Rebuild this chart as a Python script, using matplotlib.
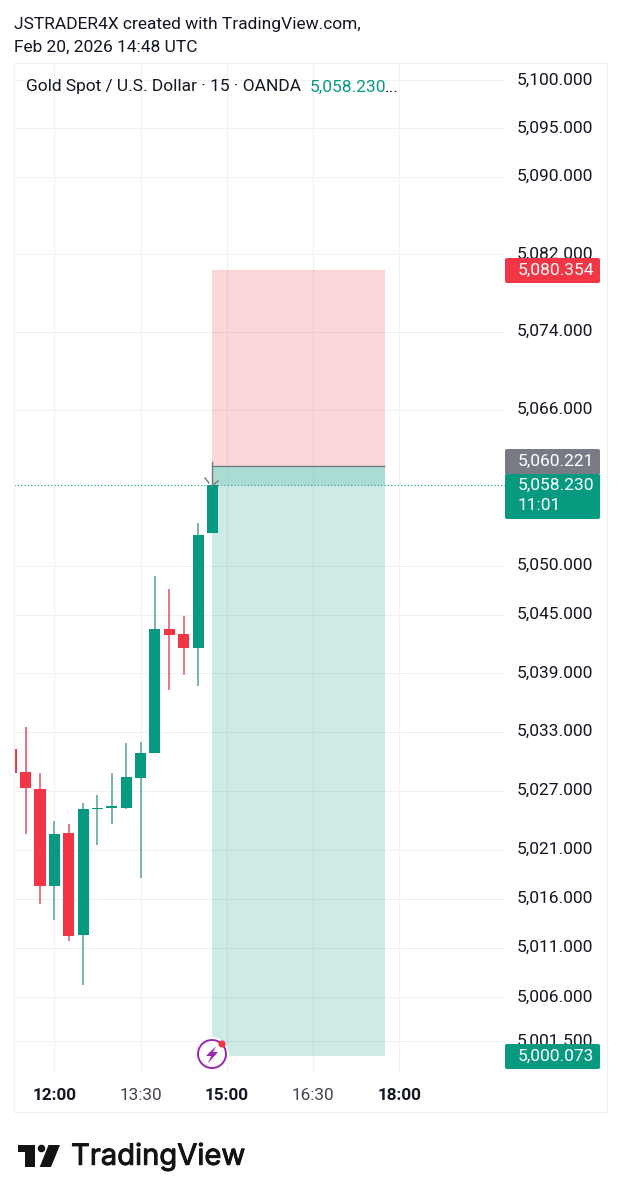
import matplotlib
matplotlib.use('Agg')
import matplotlib.pyplot as plt
import matplotlib.patheffects as pe
from matplotlib.patches import Rectangle, Circle, Polygon, FancyBboxPatch
from matplotlib.lines import Line2D
from matplotlib.transforms import ScaledTranslation

plt.rcParams['font.family'] = ['Roboto', 'DejaVu Sans']

W, H = 622, 1200

# candles, bar 0 is the 12:00 bar
bar_index = [-3, -2, -1, 0, 1, 2, 3, 4, 5, 6, 7, 8, 9, 10, 11]
opens = [5031.3, 5028.9, 5027.2, 5017.3, 5022.7, 5012.3, 5025.1, 5025.2, 5025.2, 5028.3, 5030.9, 5043.5, 5043.0, 5041.6, 5053.4]
highs = [5031.3, 5033.5, 5028.8, 5023.9, 5023.6, 5025.7, 5026.6, 5028.8, 5031.9, 5032.0, 5048.9, 5047.6, 5044.9, 5054.4, 5058.23]
lows = [5028.8, 5022.6, 5015.5, 5013.8, 5011.7, 5007.2, 5021.5, 5023.6, 5025.1, 5018.1, 5030.9, 5037.3, 5038.8, 5037.7, 5053.4]
closes = [5028.8, 5027.3, 5017.3, 5022.6, 5012.2, 5025.1, 5025.2, 5025.4, 5028.4, 5030.9, 5043.5, 5042.9, 5041.6, 5053.1, 5058.23]

price_ticks = [5100, 5095, 5090, 5082, 5074, 5066, 5050, 5045, 5039, 5033, 5027, 5021, 5016, 5011, 5006, 5001.5]
price_labels = ['5,100.000', '5,095.000', '5,090.000', '5,082.000', '5,074.000', '5,066.000', '5,050.000', '5,045.000',
                '5,039.000', '5,033.000', '5,027.000', '5,021.000', '5,016.000', '5,011.000', '5,006.000', '5,001.500']
time_ticks = [0, 6, 12, 18, 24]
time_labels = ['12:00', '13:30', '15:00', '16:30', '18:00']
time_bold = [True, False, True, False, True]

stop_price = 5080.354
entry_price = 5060.221
target_price = 5000.073
last_price = 5058.23
pos_start, pos_end = 11, 23

GREEN = '#089981'
RED = '#f23645'
GREY = '#787b86'
GRID = '#eff1f3'
TEXT = '#131722'
FS = 12.5


def fx(x):
    return x / W


def fy(y):
    return 1 - y / H


def add_box(y0, y1, color, z=5):
    fig.add_artist(FancyBboxPatch((505, H - y1), 95, y1 - y0, boxstyle='round,pad=0,rounding_size=2',
                                  transform=None, fc=color, ec='none', zorder=z))


def px_text(x, y, s, **kw):
    return fig.text(fx(x), fy(y), s, va='center', **kw)


fig = plt.figure(figsize=(W / 100, H / 100), dpi=100, facecolor='white')
ax = fig.add_axes([fx(14), fy(1072), fx(505 - 14), (1072 - 63) / H])

ax.set_yscale('log')
ax.set_ylim(4998.4, 5101.76)
ax.set_xlim(-2.81, 31.36)
for s in ax.spines.values():
    s.set_visible(False)

ax.set_yticks(price_ticks)
ax.set_yticks([], minor=True)
ax.set_yticklabels(price_labels)
ax.yaxis.tick_right()
ax.set_xticks(time_ticks)
ax.set_xticklabels(time_labels)
ax.tick_params(axis='both', length=0)
ax.tick_params(axis='y', pad=8.6, labelsize=FS, labelcolor=TEXT)
ax.tick_params(axis='x', pad=11.4, labelsize=12.3, labelcolor=TEXT)
up = ScaledTranslation(0, 1.2 / 72, fig.dpi_scale_trans)
for lab in ax.get_yticklabels():
    lab.set_transform(lab.get_transform() + up)
for lab, bold in zip(ax.get_xticklabels(), time_bold):
    lab.set_fontweight('bold' if bold else 'normal')
    if not bold:
        lab.set_color('#40444f')
ax.grid(True, color=GRID, lw=0.75)
ax.set_axisbelow(True)

# position tool
ax.fill_between([pos_start, pos_end], entry_price, stop_price, color=RED, alpha=0.2, lw=0, zorder=1)
ax.fill_between([pos_start, pos_end], target_price, entry_price, color=GREEN, alpha=0.2, lw=0, zorder=1)
ax.fill_between([pos_start, pos_end], last_price, entry_price, color=GREEN, alpha=0.17, lw=0, zorder=1)
ax.hlines(entry_price, pos_start, pos_end, color='#6f7a80', lw=1, zorder=2)

# candles
for i, o, h, l, c in zip(bar_index, opens, highs, lows, closes):
    col = GREEN if c >= o else RED
    wick = '#5fab9c' if c >= o else '#e4606d'
    ax.vlines(i, l, h, color=wick, lw=1.2, zorder=3)
    ax.bar(i, max(abs(c - o), 0.12), bottom=min(o, c), width=0.77, color=col, lw=0, zorder=4)

ax.axhline(last_price, color=GREEN, lw=0.8, ls=(0, (1, 2)), zorder=3)

# chart frame
fig.add_artist(Rectangle((fx(14), fy(1112)), fx(593), (1112 - 63) / H, transform=fig.transFigure,
                         fc='none', ec='#eef0f3', lw=0.8, zorder=1))

# order marker near the entry
for xs, ys in [([212, 212], [462, 485]), ([205, 209], [478, 483]), ([213, 218], [485, 481])]:
    fig.add_artist(Line2D([fx(v) for v in xs], [fy(v) for v in ys], transform=fig.transFigure,
                          color='#6f7a80', lw=1, zorder=3))

# price tags
add_box(258, 283, RED)
add_box(449, 475, GREY)
add_box(474, 519, GREEN, z=5.1)
add_box(1044, 1069, GREEN)
for y, s in [(270.5, '5,080.354'), (461.5, '5,060.221'), (485, '5,058.230'), (505.5, '11:01'), (1056.5, '5,000.073')]:
    px_text(518, y, s, color='white', fontsize=FS, zorder=6)

# header and legend
px_text(14, 24, 'JSTRADER4X created with TradingView.com,', color=TEXT, fontsize=FS)
px_text(14, 47.5, 'Feb 20, 2026 14:48 UTC', color=TEXT, fontsize=FS)
px_text(26, 87, 'Gold Spot / U.S. Dollar · 15 · OANDA', color=TEXT, fontsize=FS)
px_text(310, 87, '5,058.230', color=GREEN, fontsize=FS)
px_text(385, 87, '...', color=TEXT, fontsize=FS)

# lightning badge
fig.add_artist(Circle((212, H - 1054), 17, transform=None, fc='white', ec='none', zorder=5))
fig.add_artist(Circle((212, H - 1054), 14, transform=None, fc='white', ec='#9c27b0', lw=1.4, zorder=6))
bolt = [(216, 1046), (206, 1056), (211, 1056), (208, 1063), (218, 1052), (213, 1052)]
fig.add_artist(Polygon([(x, H - y) for x, y in bolt], closed=True, transform=None, fc='#9c27b0', ec='none', zorder=7))
fig.add_artist(Circle((222, H - 1044), 3.6, transform=None, fc=RED, ec='none', zorder=8))

# logo
logo_t = [(17.5, 1145), (35, 1145), (35, 1167), (25, 1167), (25, 1152), (17.5, 1152)]
logo_s = [(48.5, 1145), (60, 1145), (51, 1167), (39.7, 1167)]
for pts in (logo_t, logo_s):
    fig.add_artist(Polygon([(x, H - y) for x, y in pts], closed=True, transform=None, fc='#131313', ec='none', zorder=5))
fig.add_artist(Circle((41.5, H - 1148.5), 3.8, transform=None, fc='#131313', ec='none', zorder=5))
logo_txt = px_text(71, 1157, 'TradingView', color='#131313', fontsize=21, family=['Inter', 'DejaVu Sans'])
logo_txt.set_path_effects([pe.withStroke(linewidth=0.7, foreground='#131313')])

fig.savefig('out.png', dpi=100)
